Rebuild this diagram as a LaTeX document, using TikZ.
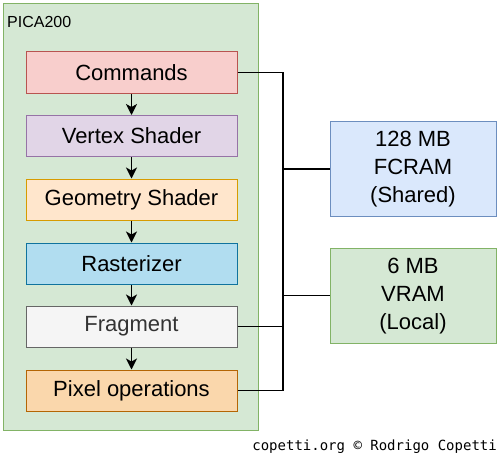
\documentclass[tikz,border=0pt]{standalone}
\usepackage{fontspec}
\setmainfont{Liberation Sans}
\newfontfamily\copyfont{DejaVu Sans Mono}
\usetikzlibrary{arrows.meta}
\definecolor{cmdF}{HTML}{F8CECC}\definecolor{cmdD}{HTML}{B85450}
\definecolor{vtxF}{HTML}{E1D5E7}\definecolor{vtxD}{HTML}{9673A6}
\definecolor{geoF}{HTML}{FFE6CC}\definecolor{geoD}{HTML}{D79B00}
\definecolor{rasF}{HTML}{B1DDF0}\definecolor{rasD}{HTML}{10739E}
\definecolor{frgF}{HTML}{F5F5F5}\definecolor{frgD}{HTML}{666666}
\definecolor{pixF}{HTML}{FAD7AC}\definecolor{pixD}{HTML}{B46504}
\definecolor{fcrF}{HTML}{DAE8FC}\definecolor{fcrD}{HTML}{6C8EBF}
\definecolor{grnF}{HTML}{D5E8D4}\definecolor{grnD}{HTML}{82B366}
\definecolor{frgT}{HTML}{333333}
\newcommand{\memtext}[1]{\raisebox{-3pt}{\begin{tabular}{@{}c@{}}#1\end{tabular}}}
\tikzset{
  stage/.style={draw, line width=1pt, minimum width=211pt, minimum height=41pt, inner sep=0pt,
    font=\fontsize{22}{27}\selectfont},
  mem/.style={draw, line width=1pt, minimum width=166pt, minimum height=95pt, inner sep=0pt,
    font=\fontsize{22}{28}\selectfont},
  flow/.style={line width=1.3pt, -{Stealth[length=11pt,width=11pt,inset=3pt]}},
  bus/.style={line width=1.3pt}
}
\begin{document}
\begin{tikzpicture}[x=1pt,y=-1pt]
\useasboundingbox (0,0) rectangle (500,460);
\node[draw=grnD, fill=grnF, line width=1pt, minimum width=255pt, minimum height=426pt, inner sep=0pt] (pica) at (131,217) {};
\node[anchor=west, font=\fontsize{16}{18}\selectfont, inner sep=0pt] (picalbl) at (7,22) {PICA200};
\node[stage, fill=cmdF, draw=cmdD] (cmd) at (131.5,72.5) {Commands};
\node[stage, fill=vtxF, draw=vtxD] (vtx) at (131.5,136) {Vertex Shader};
\node[stage, fill=geoF, draw=geoD] (geo) at (131.5,199.5) {Geometry Shader};
\node[stage, fill=rasF, draw=rasD] (ras) at (131.5,263.5) {Rasterizer};
\node[stage, fill=frgF, draw=frgD, text=frgT] (frg) at (131.5,326.5) {Fragment};
\node[stage, fill=pixF, draw=pixD] (pix) at (131.5,390.5) {Pixel operations};
\node[mem, fill=fcrF, draw=fcrD] (fcram) at (413,169) {\memtext{128 MB\\FCRAM\\(Shared)}};
\node[mem, fill=grnF, draw=grnD] (vram) at (413,295.5) {\memtext{6 MB\\VRAM\\(Local)}};
\draw[flow] (cmd) -- (vtx);
\draw[flow] (vtx) -- (geo);
\draw[flow] (geo) -- (ras);
\draw[flow] (ras) -- (frg);
\draw[flow] (frg) -- (pix);
\coordinate (btop) at (283,72.5);
\coordinate (bbot) at (283,390.5);
\draw[bus] (cmd.east) -- (btop) -- (bbot) -- (pix.east);
\draw[bus] (frg.east) -- (frg.east -| btop);
\draw[bus] (fcram.west -| btop) -- (fcram.west);
\draw[bus] (vram.west -| btop) -- (vram.west);
\node[anchor=east, font=\copyfont\fontsize{14}{16}\selectfont, inner sep=0pt] (copy) at (497,447) {copetti.org © Rodrigo Copetti};
\end{tikzpicture}
\end{document}
